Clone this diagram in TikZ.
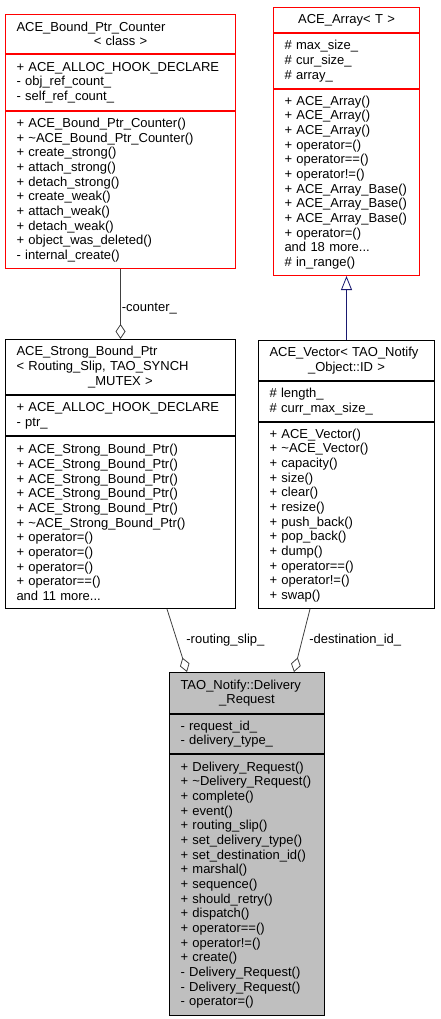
\documentclass[tikz,border=0pt]{standalone}
\usepackage{fontspec}
\setmainfont{Liberation Sans}
\usepackage{xcolor}
\usetikzlibrary{positioning,arrows.meta}
\definecolor{edgegray}{HTML}{404040}
\definecolor{inhblue}{HTML}{191970}
\definecolor{boxred}{HTML}{FF0000}
\definecolor{boxgray}{HTML}{BFBFBF}
\newcommand{\tl}{\textasciitilde}
\tikzset{
	cell/.style={draw, line width=1pt, fill=white, inner xsep=11pt, inner ysep=0pt, align=left, anchor=north west, font=\fontsize{13}{14.67}\selectfont},
	redcell/.style={cell, draw=boxred},
	blackcell/.style={cell, draw=black},
	graycell/.style={cell, draw=black, fill=boxgray},
	member/.style={draw=edgegray, line width=.8pt, -{Diamond[open, length=15pt, width=10pt]}},
	inherit/.style={draw=inhblue, line width=.8pt, -{Triangle[open, length=14pt, width=11pt]}},
	lbl/.style={font=\fontsize{13}{14.67}\selectfont, anchor=west, inner sep=1pt}
}

\begin{document}
\begin{tikzpicture}[x=1pt, y=-1pt]
	\useasboundingbox (0,0) rectangle (440,1019);

	\node[redcell, text width=208pt, minimum height=39pt] (counter-title) at (5,14) {ACE\_Bound\_Ptr\_Counter\par\centering< class >\par};
	\node[redcell, text width=208pt, minimum height=56pt, below=0pt of counter-title] (counter-attr) {+~ACE\_ALLOC\_HOOK\_DECLARE\\-~obj\_ref\_count\_\\-~self\_ref\_count\_};
	\node[redcell, text width=208pt, minimum height=157pt, below=0pt of counter-attr] (counter-ops) {+~ACE\_Bound\_Ptr\_Counter()\\+~\tl ACE\_Bound\_Ptr\_Counter()\\+~create\_strong()\\+~attach\_strong()\\+~detach\_strong()\\+~create\_weak()\\+~attach\_weak()\\+~detach\_weak()\\+~object\_was\_deleted()\\-~internal\_create()};

	\node[redcell, text width=124pt, minimum height=25pt] (array-title) at (273,7) {\centering ACE\_Array< T >\par};
	\node[redcell, text width=124pt, minimum height=55pt, below=0pt of array-title] (array-attr) {\#~max\_size\_\\\#~cur\_size\_\\\#~array\_};
	\node[redcell, text width=124pt, minimum height=186pt, below=0pt of array-attr] (array-ops) {+~ACE\_Array()\\+~ACE\_Array()\\+~ACE\_Array()\\+~operator=()\\+~operator==()\\+~operator!=()\\+~ACE\_Array\_Base()\\+~ACE\_Array\_Base()\\+~ACE\_Array\_Base()\\+~operator=()\\and 18 more...\\\#~in\_range()};

	\node[blackcell, text width=208pt, minimum height=55pt] (strong-title) at (5,339) {ACE\_Strong\_Bound\_Ptr\\< Routing\_Slip, TAO\_SYNCH\par\centering\_MUTEX >\par};
	\node[blackcell, text width=208pt, minimum height=40pt, below=0pt of strong-title] (strong-attr) {+~ACE\_ALLOC\_HOOK\_DECLARE\\-~ptr\_};
	\node[blackcell, text width=208pt, minimum height=172pt, below=0pt of strong-attr] (strong-ops) {+~ACE\_Strong\_Bound\_Ptr()\\+~ACE\_Strong\_Bound\_Ptr()\\+~ACE\_Strong\_Bound\_Ptr()\\+~ACE\_Strong\_Bound\_Ptr()\\+~ACE\_Strong\_Bound\_Ptr()\\+~\tl ACE\_Strong\_Bound\_Ptr()\\+~operator=()\\+~operator=()\\+~operator=()\\+~operator==()\\and 11 more...};

	\node[blackcell, text width=154pt, minimum height=40pt] (vector-title) at (258,340) {ACE\_Vector<~TAO\_Notify\par\centering\_Object::ID >\par};
	\node[blackcell, text width=154pt, minimum height=40pt, below=0pt of vector-title] (vector-attr) {\#~length\_\\\#~curr\_max\_size\_};
	\node[blackcell, text width=154pt, minimum height=186pt, below=0pt of vector-attr] (vector-ops) {+~ACE\_Vector()\\+~\tl ACE\_Vector()\\+~capacity()\\+~size()\\+~clear()\\+~resize()\\+~push\_back()\\+~pop\_back()\\+~dump()\\+~operator==()\\+~operator!=()\\+~swap()};

	\node[graycell, text width=133pt, minimum height=41pt] (request-title) at (169,672) {TAO\_Notify::Delivery\par\centering\_Request\par};
	\node[graycell, text width=133pt, minimum height=39pt, below=0pt of request-title] (request-attr) {-~request\_id\_\\-~delivery\_type\_};
	\node[graycell, text width=133pt, minimum height=261pt, below=0pt of request-attr] (request-ops) {+~Delivery\_Request()\\+~\tl Delivery\_Request()\\+~complete()\\+~event()\\+~routing\_slip()\\+~set\_delivery\_type()\\+~set\_destination\_id()\\+~marshal()\\+~sequence()\\+~should\_retry()\\+~dispatch()\\+~operator==()\\+~operator!=()\\+~create()\\-~Delivery\_Request()\\-~Delivery\_Request()\\-~operator=()};

	\draw[member] (counter-ops.south) -- node[lbl, pos=.56] {-counter\_} (strong-title.north);
	\draw[inherit] (vector-title.north) -- (array-ops.south);
	\draw[member] ([xshift=-69pt]strong-ops.south east) -- node[lbl, pos=.5, xshift=8pt] {-routing\_slip\_} ([xshift=18pt]request-title.north west);
	\draw[member] ([xshift=52pt]vector-ops.south west) -- node[lbl, pos=.5, xshift=6pt] {-destination\_id\_} ([xshift=-31pt]request-title.north east);
\end{tikzpicture}
\end{document}
